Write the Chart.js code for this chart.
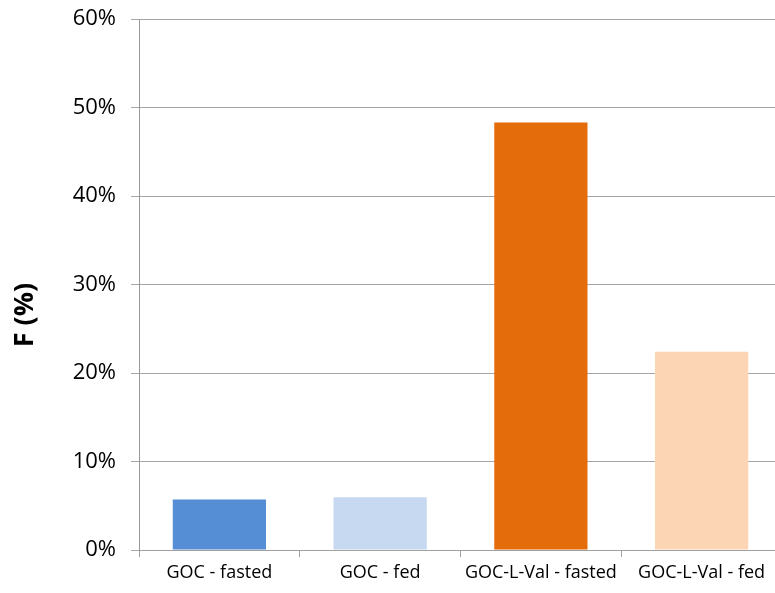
<!DOCTYPE html>
<html>
<head>
<meta charset="utf-8">
<script src="https://cdn.jsdelivr.net/npm/chart.js@4"></script>
<style>
  html, body { margin: 0; padding: 0; background: #fff; overflow: hidden; }
  #wrap { position: relative; width: 800px; height: 593px; }
</style>
</head>
<body>
<div id="wrap"><canvas id="c"></canvas></div>
<script>
// Bioavailability F (%) per formulation and feeding state
const categories = ['GOC - fasted', 'GOC - fed', 'GOC-L-Val - fasted', 'GOC-L-Val - fed'];
const fValues = [5.7, 5.95, 48.3, 22.4];
const barColors = ['#558ED5', '#C6D9F1', '#E46C0A', '#FCD5B5'];
const yTicks = [0, 10, 20, 30, 40, 50, 60];

const FONT = "'Open Sans', 'DejaVu Sans', sans-serif";

// Rotated axis title, placed alongside the value axis
const yTitlePlugin = {
  id: 'yTitle',
  afterDraw(chart) {
    const ctx = chart.ctx;
    ctx.save();
    ctx.translate(25, 315);
    ctx.rotate(-Math.PI / 2);
    ctx.font = "bold 27px " + FONT;
    ctx.fillStyle = '#000';
    ctx.textAlign = 'center';
    ctx.textBaseline = 'middle';
    ctx.fillText('F (%)', 0, 0);
    ctx.restore();
  }
};

new Chart(document.getElementById('c'), {
  type: 'bar',
  data: {
    labels: categories,
    datasets: [{
      data: fValues,
      backgroundColor: barColors,
      borderWidth: 0,
      categoryPercentage: 0.58,
      barPercentage: 1.0
    }]
  },
  options: {
    responsive: true,
    maintainAspectRatio: false,
    animation: false,
    layout: { padding: { top: 19, right: 18, left: 0, bottom: 0 } },
    plugins: { legend: { display: false }, tooltip: { enabled: false } },
    scales: {
      x: {
        grid: {
          offset: true,
          drawOnChartArea: false,
          drawTicks: true,
          tickLength: 7,
          color: '#A0A0A0'
        },
        border: { color: '#A0A0A0', width: 1 },
        ticks: {
          color: '#000',
          font: { family: FONT, size: 18 },
          padding: 5,
          maxRotation: 0,
          autoSkip: false
        },
        afterFit(scale) { scale.height = 43; }
      },
      y: {
        min: 0,
        max: 60,
        afterBuildTicks(scale) { scale.ticks = yTicks.map(v => ({ value: v })); },
        grid: {
          color: '#A6A6A6',
          drawTicks: true,
          tickLength: 8
        },
        border: { color: '#999999', width: 1 },
        ticks: {
          color: '#000',
          font: { family: FONT, size: 22 },
          padding: 15,
          callback: v => v + '%'
        },
        afterFit(scale) {
          scale.width = 139;
          scale.paddingTop = 0;
          scale.paddingBottom = 0;
        }
      }
    }
  },
  plugins: [yTitlePlugin]
});
</script>
</body>
</html>
